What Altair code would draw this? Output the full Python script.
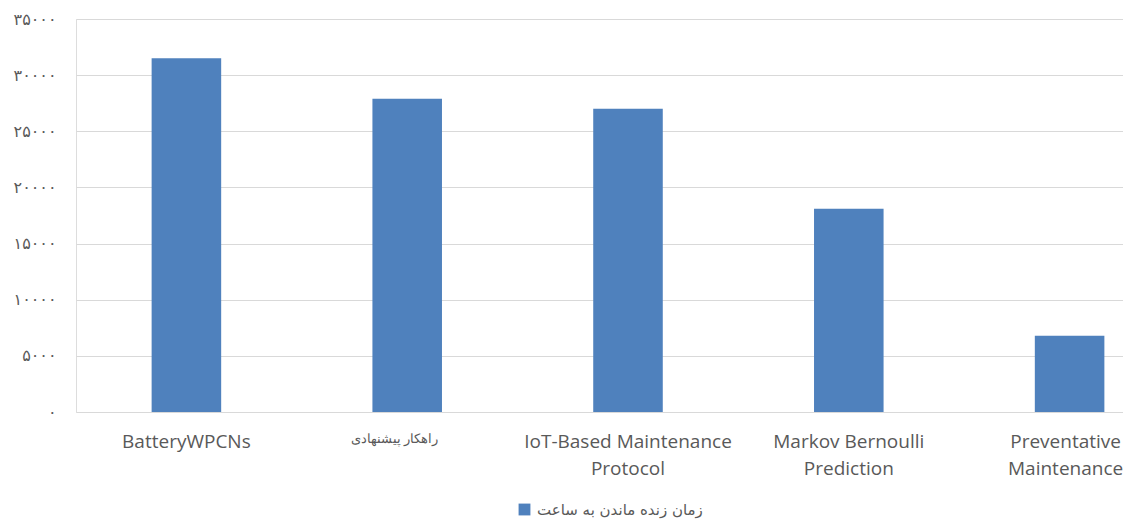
import altair as alt
import pandas as pd

categories = ["BatteryWPCNs", "راهکار پیشنهادی", "IoT-Based Maintenance Protocol",
              "Markov Bernoulli Prediction", "Preventative Maintenance"]
label_lines = [["BatteryWPCNs"], ["راهکار پیشنهادی"], ["IoT-Based Maintenance", "Protocol"],
               ["Markov Bernoulli", "Prediction"], ["Preventative", "Maintenance"]]
values = [31500, 27900, 27000, 18100, 6800]
series_name = "زمان زنده ماندن به ساعت"
y_ticks = [0, 5000, 10000, 15000, 20000, 25000, 30000, 35000]
y_tick_labels = ["۰", "۵۰۰۰", "۱۰۰۰۰", "۱۵۰۰۰", "۲۰۰۰۰", "۲۵۰۰۰", "۳۰۰۰۰", "۳۵۰۰۰"]

df = pd.DataFrame({"cat": categories, "val": values, "series": [series_name] * len(categories)})

y_expr = " : ".join(f"datum.value == {v} ? '{t}'" for v, t in zip(y_ticks, y_tick_labels)) + " : ''"
x_expr = " : ".join(
    f"datum.value == '{c}' ? [" + ", ".join(f"'{l}'" for l in ls) + "]"
    for c, ls in zip(categories, label_lines)) + " : datum.value"
persian_test = f"datum.value == '{categories[1]}'"
last_test = f"datum.value == '{categories[4]}'"

gray = "#595959"
step = 220.8

chart = alt.Chart(df).mark_bar(color="#4F81BD").encode(
    x=alt.X("cat:N", sort=categories, title=None,
            scale=alt.Scale(range=[0, step * 5], paddingInner=0.685, paddingOuter=0.3425),
            axis=alt.Axis(labelExpr=x_expr, labelAngle=0, labelFont="Open Sans",
                          labelFontSize={"condition": {"test": persian_test, "value": 12.5}, "value": 19},
                          labelOffset={"condition": [{"test": persian_test, "value": -13},
                                                     {"test": last_test, "value": -4}], "value": 0},
                          labelColor=gray, labelPadding=20, labelLineHeight=27, labelBaseline="top",
                          ticks=False, domain=False, grid=False, labelLimit=400)),
    y=alt.Y("val:Q", title=None,
            scale=alt.Scale(domain=[0, 35000], nice=False),
            axis=alt.Axis(values=y_ticks, labelExpr=y_expr, labelFont="DejaVu Sans", labelFontSize=16,
                          labelColor=gray, labelPadding=20, ticks=False, tickSize=0, domain=False,
                          grid=True, gridColor="#D9D9D9", gridWidth=1)),
    color=alt.Color("series:N", title=None,
                    scale=alt.Scale(domain=[series_name], range=["#4F81BD"]),
                    legend=alt.Legend(orient="none", legendX=441, legendY=483, symbolType="square",
                                      symbolSize=140, symbolStrokeWidth=0, labelFont="DejaVu Sans",
                                      labelFontSize=15, labelColor=gray, padding=0, labelOffset=5,
                                      labelLimit=500)),
).properties(
    width=1047, height=393,
    autosize=alt.AutoSizeParams(type="none"),
    padding={"left": 68, "top": 11, "right": 0, "bottom": 111},
).configure_view(stroke=None).configure(background="white")

chart.save("out.html", embed_options={"renderer": "svg", "actions": False})
